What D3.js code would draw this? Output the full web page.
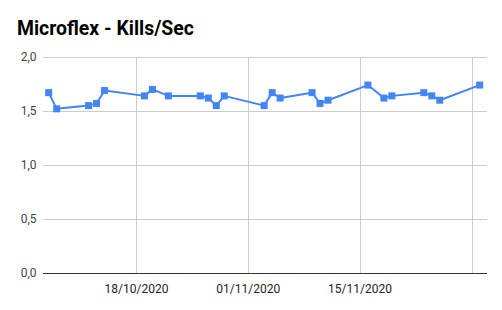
<!DOCTYPE html>
<html><head><meta charset="utf-8">
<script src="https://cdn.jsdelivr.net/npm/d3@7"></script>
<style>body{margin:0;background:#fff}svg{display:block}</style>
</head><body>
<svg id="c" width="502" height="310"></svg>
<script>
const dates = ["07/10/2020","08/10/2020","12/10/2020","13/10/2020","14/10/2020","19/10/2020","20/10/2020","22/10/2020","26/10/2020","27/10/2020","28/10/2020","29/10/2020","03/11/2020","04/11/2020","05/11/2020","09/11/2020","10/11/2020","11/11/2020","16/11/2020","18/11/2020","19/11/2020","23/11/2020","24/11/2020","25/11/2020","30/11/2020"];
const values = [1.67,1.52,1.55,1.57,1.69,1.64,1.70,1.64,1.64,1.62,1.55,1.64,1.55,1.67,1.62,1.67,1.57,1.60,1.74,1.62,1.64,1.67,1.64,1.60,1.74];
const yTicks = [0,0.5,1,1.5,2];
const xTicks = ["18/10/2020","01/11/2020","15/11/2020","29/11/2020"];
const xTickLabels = ["18/10/2020","01/11/2020","15/11/2020",""];
const xDomain = ["2020-10-06T07:00","2020-11-30T22:00"];

const parse = d3.utcParse("%d/%m/%Y");
const parseIso = d3.utcParse("%Y-%m-%dT%H:%M");
const data = dates.map((d,i)=>({date:parse(d), value:values[i]}));

const svg = d3.select("#c");
const L=43, R=487, T=57, B=273;
const x = d3.scaleUtc().domain(xDomain.map(parseIso)).range([L,R]);
const y = d3.scaleLinear().domain([0,2]).range([B,T]);
const font = "Roboto, Arial, sans-serif";

svg.append("text").attr("x",17).attr("y",34.5).attr("font-family",font)
  .attr("font-size",19.4).attr("font-weight","bold").attr("fill","#000")
  .text("Microflex - Kills/Sec");

svg.append("g").selectAll("line").data(yTicks.filter(v=>v>0)).join("line")
  .attr("x1",L).attr("x2",R).attr("y1",d=>Math.round(y(d))+0.5).attr("y2",d=>Math.round(y(d))+0.5)
  .attr("stroke","#cccccc").attr("stroke-width",1);
svg.append("g").selectAll("line").data(xTicks.map(parse)).join("line")
  .attr("x1",d=>Math.round(x(d))+0.5).attr("x2",d=>Math.round(x(d))+0.5)
  .attr("y1",T).attr("y2",B)
  .attr("stroke","#cccccc").attr("stroke-width",1);

const fmt = v => d3.format(".1f")(v).replace(".",",");
svg.append("g").selectAll("text").data(yTicks).join("text")
  .attr("x",36.5).attr("y",d=>y(d)).attr("dy","0.35em").attr("text-anchor","end")
  .attr("font-family",font).attr("font-size",12).attr("fill","#444")
  .text(fmt);
svg.append("g").selectAll("text").data(xTicks.map((t,i)=>({d:parse(t),l:xTickLabels[i]}))).join("text")
  .attr("x",d=>x(d.d)).attr("y",292.5).attr("text-anchor","middle")
  .attr("font-family",font).attr("font-size",12).attr("fill","#222")
  .text(d=>d.l);

svg.append("line").attr("x1",L).attr("x2",R).attr("y1",Math.round(y(0))+0.5).attr("y2",Math.round(y(0))+0.5)
  .attr("stroke","#333").attr("stroke-width",1);

const line = d3.line().x(d=>x(d.date)).y(d=>y(d.value));
svg.append("path").datum(data).attr("d",line).attr("fill","none")
  .attr("stroke","#4285F4").attr("stroke-width",2).attr("stroke-linejoin","round");
const s=7;
svg.append("g").selectAll("rect").data(data).join("rect")
  .attr("x",d=>x(d.date)-s/2).attr("y",d=>y(d.value)-s/2).attr("width",s).attr("height",s)
  .attr("fill","#4285F4");
</script>
</body></html>
